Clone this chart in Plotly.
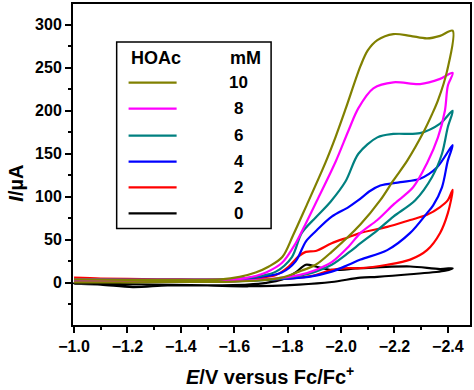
import plotly.graph_objects as go

# ---------------- data ----------------
conc_labels = ["0", "2", "4", "6", "8", "10"]
colors = ["#000000", "#ff0000", "#0000ff", "#008080", "#ff00ff", "#808000"]

E_0 = [-1.0, -1.1, -1.22, -1.35, -1.5, -1.65, -1.72, -1.78, -1.83, -1.868, -1.905, -1.965, -2.073, -2.259, -2.371, -2.418,
       -2.39, -2.259, -2.136, -2.073, -1.965, -1.842, -1.655, -1.5, -1.3, -1.0]
I_0 = [-1, -2, -5, -3, -3, -2, 0, 4, 12, 21, 19, 15, 17, 19, 16, 17,
       14, 10, 7, 6, 1, -2, -4, -3, -2, -1]

E_2 = [-1.0, -1.1, -1.2, -1.4, -1.6, -1.7, -1.756, -1.804, -1.842, -1.868, -1.905, -1.965, -2.028, -2.073, -2.173, -2.259, -2.322, -2.371, -2.4, -2.418,
       -2.4, -2.371, -2.322, -2.259, -2.173, -2.073, -2.028, -1.965, -1.905, -1.842, -1.75, -1.6, -1.4, -1.2, -1.0]
I_2 = [6, 5, 4.5, 4, 4, 6, 9, 19, 31, 36, 37, 46, 53, 58, 65, 73, 79, 88, 96, 108,
       81, 58, 38, 27, 21, 17, 17, 15, 9, 6, 4, 3, 2, 2, 2]

E_4 = [-1.0, -1.2, -1.4, -1.6, -1.7, -1.778, -1.83, -1.868, -1.905, -1.965, -2.028, -2.065, -2.11, -2.147, -2.222, -2.296, -2.359, -2.418,
       -2.4, -2.378, -2.345, -2.322, -2.259, -2.173, -2.073, -2.028, -1.965, -1.879, -1.75, -1.6, -1.4, -1.2, -1.0]
I_4 = [4, 3.5, 3.5, 4, 7, 12, 25, 48, 60, 77, 88, 96, 107, 113, 117, 121, 134, 160,
       142, 111, 90, 81, 58, 38, 27, 21, 13, 7, 4, 2, 1.5, 1, 1]

E_6 = [-1.0, -1.2, -1.4, -1.6, -1.7, -1.756, -1.816, -1.853, -1.905, -1.96, -2.017, -2.065, -2.136, -2.196, -2.296, -2.371, -2.418,
       -2.4, -2.378, -2.341, -2.278, -2.196, -2.136, -2.073, -2.028, -1.965, -1.905, -1.82, -1.7, -1.6, -1.4, -1.2, -1.0]
I_6 = [4, 3.5, 3.5, 4, 8, 13, 30, 58, 76, 94, 118, 150, 169, 173, 174, 185, 200,
       181, 150, 123, 96, 77, 61, 46, 35, 21, 13, 7, 3, 2, 1.5, 1, 1]

E_8 = [-1.0, -1.2, -1.4, -1.6, -1.68, -1.719, -1.778, -1.83, -1.868, -1.909, -1.98, -2.028, -2.065, -2.121, -2.196, -2.296, -2.371, -2.418,
       -2.4, -2.389, -2.363, -2.322, -2.27, -2.2, -2.136, -2.073, -2.028, -1.965, -1.905, -1.842, -1.75, -1.6, -1.4, -1.2, -1.0]
I_8 = [4, 3.5, 3.5, 4, 8, 12, 23, 46, 69, 95, 141, 177, 203, 226, 233, 231, 237, 244,
       229, 200, 169, 139, 111, 92, 73, 58, 42, 24, 15, 9, 5, 2, 1.5, 1, 1]

E_10 = [-1.0, -1.2, -1.4, -1.55, -1.62, -1.68, -1.73, -1.78, -1.82, -1.868, -1.942, -1.98, -2.017, -2.073, -2.10, -2.136, -2.196, -2.259, -2.322, -2.371, -2.418,
        -2.397, -2.363, -2.341, -2.307, -2.248, -2.196, -2.147, -2.073, -1.965, -1.905, -1.842, -1.778, -1.7, -1.6, -1.4, -1.2, -1.0]
I_10 = [4, 3.5, 3.5, 4, 7, 12, 19, 30, 55, 88, 140, 170, 202, 252, 270, 282, 289, 287, 284, 287, 293,
        246, 212, 196, 174, 142, 119, 96, 68, 36, 21, 13, 6, 3, 1.5, 1, 0.5, 0.5]

E_all = [E_0, E_2, E_4, E_6, E_8, E_10]
I_all = [I_0, I_2, I_4, I_6, I_8, I_10]

x_ticks = [-1.0, -1.2, -1.4, -1.6, -1.8, -2.0, -2.2, -2.4]
y_ticks = [0, 50, 100, 150, 200, 250, 300]

FONT = "Liberation Sans, Arial, sans-serif"

fig = go.Figure()
for E, I, c, lab in zip(E_all, I_all, colors, conc_labels):
    fig.add_trace(go.Scatter(x=E, y=I, mode="lines", name=lab,
                             line=dict(color=c, width=2.2, shape="spline", smoothing=0.9),
                             showlegend=False))

# ---------------- custom legend box ----------------
lx0, lx1, ly0, ly1 = 0.110, 0.499, 0.301, 0.882
fig.add_shape(type="rect", xref="paper", yref="paper", x0=lx0, x1=lx1, y0=ly0, y1=ly1,
              line=dict(color="black", width=1.5), fillcolor="white", layer="above")
fig.add_annotation(x=0.140, y=0.832, xref="paper", yref="paper", text="<b>HOAc</b>",
                   showarrow=False, xanchor="left", yanchor="middle",
                   font=dict(family=FONT, size=18, color="black"))
fig.add_annotation(x=0.434, y=0.832, xref="paper", yref="paper", text="<b>mM</b>",
                   showarrow=False, xanchor="center", yanchor="middle",
                   font=dict(family=FONT, size=18, color="black"))
row_y = [0.348, 0.429, 0.509, 0.590, 0.674, 0.755]
for c, lab, ry in zip(colors, conc_labels, row_y):
    fig.add_shape(type="line", xref="paper", yref="paper", x0=0.140, x1=0.261, y0=ry, y1=ry,
                  line=dict(color=c, width=2.2), layer="above")
    fig.add_annotation(x=0.418, y=ry, xref="paper", yref="paper", text="<b>%s</b>" % lab,
                       showarrow=False, xanchor="center", yanchor="middle",
                       font=dict(family=FONT, size=17, color="black"))

# axis titles
fig.add_annotation(x=-0.143, y=0.441, xref="paper", yref="paper",
                   text="<b><i>I</i>/µA</b>", textangle=-90, showarrow=False,
                   xanchor="center", yanchor="middle",
                   font=dict(family=FONT, size=20, color="black"))
fig.add_annotation(x=0.497, y=-0.158, xref="paper", yref="paper",
                   text="<b><i>E</i>/V versus Fc/Fc<sup>+</sup></b>", showarrow=False,
                   xanchor="center", yanchor="middle",
                   font=dict(family=FONT, size=20, color="black"))

fig.update_xaxes(range=[-0.996, -2.483], tickvals=x_ticks, tickformat=".1f",
                 ticks="outside", ticklen=6, tickwidth=2, tickcolor="black",
                 minor=dict(dtick=0.1, tick0=-1.0, ticks="outside", ticklen=3, tickwidth=2, tickcolor="black"),
                 showline=True, linewidth=2, linecolor="black", mirror=True,
                 showgrid=False, zeroline=False,
                 tickfont=dict(family=FONT, size=16, color="black", weight="bold"))
fig.update_yaxes(range=[-49, 324], tickvals=y_ticks,
                 ticks="outside", ticklen=6, tickwidth=2, tickcolor="black",
                 minor=dict(dtick=25, tick0=0, ticks="outside", ticklen=3, tickwidth=2, tickcolor="black"),
                 showline=True, linewidth=2, linecolor="black", mirror=True,
                 showgrid=False, zeroline=False,
                 tickfont=dict(family=FONT, size=16, color="black", weight="bold"))

fig.update_layout(width=474, height=390, margin=dict(l=73, r=2, t=3, b=65),
                  plot_bgcolor="white", paper_bgcolor="white", showlegend=False)

fig.write_html("out.html", config={"displayModeBar": False},
               post_script="document.body.style.margin='0';document.body.style.padding='0';")
